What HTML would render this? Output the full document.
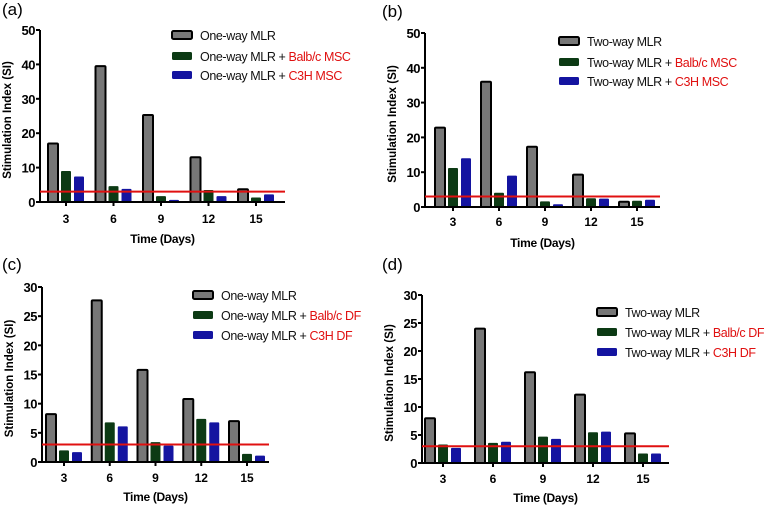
<!DOCTYPE html>
<html><head><meta charset="utf-8">
<style>
body{margin:0;background:#fff;width:765px;height:505px;overflow:hidden}
svg{display:block;font-family:"Liberation Sans",Arial,sans-serif}
</style></head>
<body>
<svg id="fig" width="765" height="505"></svg>
<script>
const categories=["3","6","9","12","15"];
const aGray=[17,39.5,25.3,13,3.7];
const aGreen=[9,4.6,1.7,3.5,1.3];
const aBlue=[7.4,3.8,0.6,1.7,2.2];
const bGray=[22.8,36,17.3,9.3,1.5];
const bGreen=[11.2,4.1,1.6,2.5,1.8];
const bBlue=[14,9,0.8,2.4,2.1];
const cGray=[8.2,27.7,15.8,10.8,7];
const cGreen=[2,6.8,3.4,7.4,1.4];
const cBlue=[1.7,6.1,2.8,6.8,1.1];
const dGray=[8,24,16.2,12.2,5.3];
const dGreen=[3.3,3.6,4.7,5.5,1.7];
const dBlue=[2.7,3.8,4.3,5.6,1.7];
const ticksA=[0,10,20,30,40,50];
const ticksC=[0,5,10,15,20,25,30];
const threshold=3;

const NS="http://www.w3.org/2000/svg";
const svg=document.getElementById('fig');
function mk(tag,attrs,parent,text){const e=document.createElementNS(NS,tag);for(const k in attrs)e.setAttribute(k,attrs[k]);if(text!==undefined)e.textContent=text;(parent||svg).appendChild(e);return e;}

const panels=[
 {id:'a',lab:'(a)',lx:2,ly:15,ax:40,top:30,bot:202,xend:285,c0:66,c1:256,max:50,ticks:ticksA,g:aGray,gr:aGreen,bl:aBlue,
  leg:['One-way MLR','One-way MLR  + ','One-way MLR + '],red:['','Balb/c MSC','C3H MSC'],lgx:172,lgy:[36,57,76],xl:223,xt:243},
 {id:'b',lab:'(b)',lx:382,ly:17,ax:425,top:33,bot:207,xend:660,c0:453,c1:637,max:50,ticks:ticksA,g:bGray,gr:bGreen,bl:bBlue,
  leg:['Two-way MLR','Two-way MLR  + ',' Two-way MLR + '],red:['','Balb/c MSC','C3H MSC'],lgx:559,lgy:[42,63,82],xl:226,xt:247},
 {id:'c',lab:'(c)',lx:2,ly:270,ax:42,top:287,bot:462,xend:269,c0:64,c1:247,max:30,ticks:ticksC,g:cGray,gr:cGreen,bl:cBlue,
  leg:['One-way MLR','One-way MLR + ','One-way MLR + '],red:['','Balb/c DF','C3H DF'],lgx:193,lgy:[296,316,336],xl:482,xt:501},
 {id:'d',lab:'(d)',lx:382,ly:270,ax:422,top:295,bot:463,xend:669,c0:443,c1:643,max:30,ticks:ticksC,g:dGray,gr:dGreen,bl:dBlue,
  leg:['Two-way MLR','Two-way MLR + ','Two-way MLR + '],red:['','Balb/c DF','C3H DF'],lgx:597,lgy:[313,333,353],xl:483,xt:502}
];
const fills=['#777','#0c3a14','#1414a0'];
panels.forEach(p=>{
  const g=mk('g',{});
  
  
  const y=v=>p.bot-(v/p.max)*(p.bot-p.top);
  const x=i=>p.c0+i*(p.c1-p.c0)/(categories.length-1);
  const t=mk('text',{x:p.lx,y:p.ly,'font-size':17},g,p.lab);
  
  const series=[p.g,p.gr,p.bl];
  series.forEach((arr,s)=>{
    arr.forEach((v,i)=>{
      const cx=x(i)+(s-1)*13;
      const r=mk('rect',{x:cx-5,y:y(v),width:10,height:p.bot-y(v),fill:fills[s],
        stroke:s==0?'#000':'none','stroke-width':s==0?2:0,rx:1},g);
      
      
    });
  });
  const ya=mk('line',{x1:p.ax,y1:p.top,x2:p.ax,y2:p.bot,stroke:'#000','stroke-width':2},g);
  
  const xa=mk('line',{x1:p.ax,y1:p.bot,x2:p.xend,y2:p.bot,stroke:'#000','stroke-width':2},g);
  
  p.ticks.forEach(v=>{
    mk('line',{x1:p.ax-4,y1:y(v),x2:p.ax,y2:y(v),stroke:'#000','stroke-width':2},g);
    const tl=mk('text',{x:p.ax-5,y:y(v)+5,'font-size':13,'font-weight':'bold','text-anchor':'end','letter-spacing':-0.5},g,v);
    
  });
  categories.forEach((c,i)=>{
    mk('line',{x1:x(i),y1:p.bot,x2:x(i),y2:p.bot+4,stroke:'#000','stroke-width':2},g);
    const tl=mk('text',{x:x(i),y:p.xl,'font-size':12,'font-weight':'bold','text-anchor':'middle'},g,c);
    
  });
  const xt=mk('text',{x:(p.ax+p.xend)/2,y:p.xt,'font-size':12,'font-weight':'bold','text-anchor':'middle','letter-spacing':-0.3},g,'Time (Days)');
  
  const yc=(p.top+p.bot)/2+4;
  const yt=mk('text',{x:p.ax-29,y:yc,'font-size':11.5,'font-weight':'bold','text-anchor':'middle',transform:`rotate(-90 ${p.ax-29} ${yc})`},g,'Stimulation Index (SI)');
  
  const rl=mk('line',{x1:p.ax,y1:y(threshold),x2:p.xend,y2:y(threshold),stroke:'#e01010','stroke-width':2},g);
  
  p.leg.forEach((txt,k)=>{
    const ly=p.lgy[k];
    const r=mk('rect',{x:p.lgx,y:ly-5,width:20,height:8,fill:fills[k],stroke:k==0?'#000':'none','stroke-width':k==0?2:0,rx:1.5},g);
    
    const lt=mk('text',{x:p.lgx+28,y:ly+4,'font-size':12.5,'letter-spacing':-0.4},g);
    
    mk('tspan',{fill:'#111'},lt,txt);
    if(p.red[k]){mk('tspan',{fill:'#e01010','font-size':12.5},lt,p.red[k]);}
  });
});
</script>
</body></html>
